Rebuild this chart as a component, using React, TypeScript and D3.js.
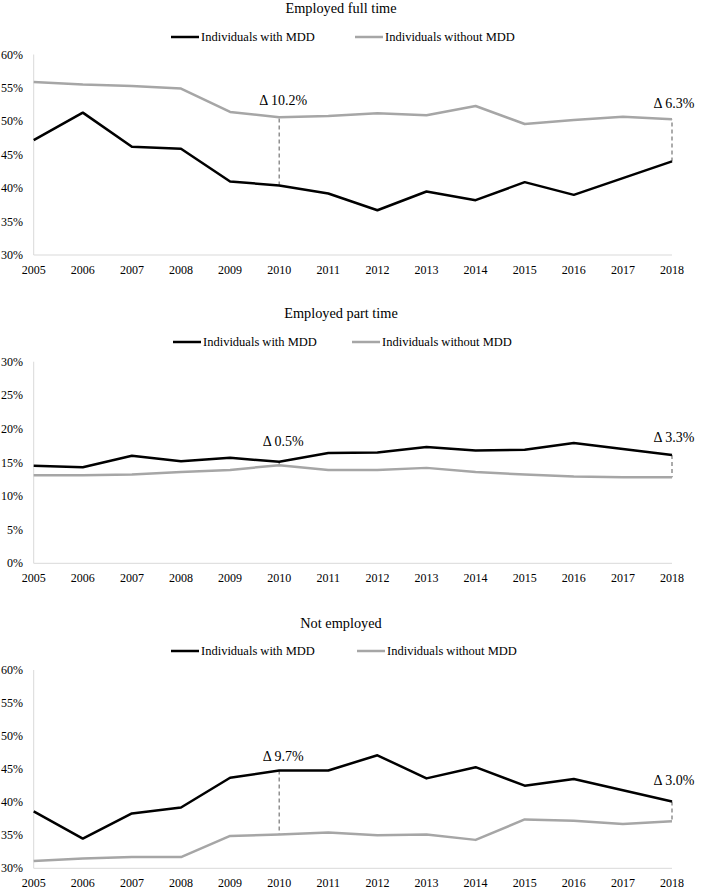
import React from "react";
import * as d3 from "d3";

const years = [2005, 2006, 2007, 2008, 2009, 2010, 2011, 2012, 2013, 2014, 2015, 2016, 2017, 2018];

const fullTimeWith = [47.2, 51.3, 46.2, 45.9, 41.0, 40.4, 39.2, 36.7, 39.5, 38.2, 40.9, 39.0, 41.5, 44.0];
const fullTimeWithout = [55.9, 55.5, 55.3, 54.9, 51.4, 50.6, 50.8, 51.2, 50.9, 52.3, 49.6, 50.2, 50.7, 50.3];

const partTimeWith = [14.5, 14.3, 16.0, 15.2, 15.7, 15.1, 16.4, 16.5, 17.3, 16.8, 16.9, 17.9, 17.0, 16.1];
const partTimeWithout = [13.1, 13.1, 13.2, 13.6, 13.9, 14.6, 13.9, 13.9, 14.2, 13.6, 13.2, 12.9, 12.8, 12.8];

const notEmployedWith = [38.6, 34.5, 38.3, 39.2, 43.7, 44.8, 44.8, 47.1, 43.6, 45.3, 42.5, 43.5, 41.8, 40.1];
const notEmployedWithout = [31.1, 31.5, 31.7, 31.7, 34.9, 35.1, 35.4, 35.0, 35.1, 34.3, 37.4, 37.2, 36.7, 37.1];

const fullTimeTicks = [30, 35, 40, 45, 50, 55, 60];
const partTimeTicks = [0, 5, 10, 15, 20, 25, 30];
const notEmployedTicks = [30, 35, 40, 45, 50, 55, 60];

const titles = ["Employed full time", "Employed part time", "Not employed"];
const legendLabels = ["Individuals with MDD", "Individuals without MDD"];
const fullTimeDeltas = ["Δ 10.2%", "Δ 6.3%"];
const partTimeDeltas = ["Δ 0.5%", "Δ 3.3%"];
const notEmployedDeltas = ["Δ 9.7%", "Δ 3.0%"];
const deltaYears = [2010, 2018];

const FONT = "Liberation Serif, Times New Roman, Tinos, Nimbus Roman, DejaVu Serif, serif";
const BLACK = "#000000";
const GRAY = "#a6a6a6";
const AXIS = "#d9d9d9";

type PanelProps = {
  title: string;
  withVals: number[];
  withoutVals: number[];
  ticks: number[];
  deltas: string[];
  top: number;
  bottom: number;
  titleY: number;
  legendY: number;
  legendX1: number;
  legendX2: number;
  deltaLabelOffsets: number[];
};

function Panel(p: PanelProps) {
  const x = d3.scaleLinear().domain([2005, 2018]).range([33.7, 672]);
  const y = d3
    .scaleLinear()
    .domain([p.ticks[0], p.ticks[p.ticks.length - 1]])
    .range([p.bottom, p.top]);
  const line = d3
    .line<number>()
    .x((_, i) => x(years[i]))
    .y((v) => y(v));

  return (
    <g style={{ fontFamily: FONT }}>
      <text x={341} y={p.titleY} textAnchor="middle" dominantBaseline="central" fontSize={14.3}>
        {p.title}
      </text>
      <line x1={p.legendX1} x2={p.legendX1 + 28} y1={p.legendY} y2={p.legendY} stroke={BLACK} strokeWidth={2.5} />
      <text x={p.legendX1 + 30} y={p.legendY} dominantBaseline="central" fontSize={12.5}>
        {legendLabels[0]}
      </text>
      <line x1={p.legendX2} x2={p.legendX2 + 28} y1={p.legendY} y2={p.legendY} stroke={GRAY} strokeWidth={2.5} />
      <text x={p.legendX2 + 30} y={p.legendY} dominantBaseline="central" fontSize={12.5}>
        {legendLabels[1]}
      </text>
      <line x1={x(2005)} x2={x(2005)} y1={y.range()[1]} y2={y.range()[0]} stroke={AXIS} strokeWidth={1} />
      <line x1={x(2005)} x2={x(2018)} y1={y.range()[0]} y2={y.range()[0]} stroke={AXIS} strokeWidth={1} />
      {p.ticks.map((t) => (
        <text key={t} x={23} y={y(t)} textAnchor="end" dominantBaseline="central" fontSize={12}>
          {t}%
        </text>
      ))}
      {years.map((yr) => (
        <text key={yr} x={x(yr)} y={p.bottom + 14.5} textAnchor="middle" dominantBaseline="central" fontSize={12}>
          {yr}
        </text>
      ))}
      {deltaYears.map((yr) => {
        const i = years.indexOf(yr);
        return (
          <line
            key={yr}
            x1={x(yr)}
            x2={x(yr)}
            y1={y(p.withVals[i])}
            y2={y(p.withoutVals[i])}
            stroke="#7f7f7f"
            strokeWidth={1.3}
            strokeDasharray="4,3"
          />
        );
      })}
      <path d={line(p.withoutVals) || ""} fill="none" stroke={GRAY} strokeWidth={2.5} strokeLinejoin="round" />
      <path d={line(p.withVals) || ""} fill="none" stroke={BLACK} strokeWidth={2.5} strokeLinejoin="round" />
      {deltaYears.map((yr, k) => {
        const i = years.indexOf(yr);
        const upper = Math.min(y(p.withVals[i]), y(p.withoutVals[i]));
        return (
          <text
            key={"d" + yr}
            x={x(yr) + (k === 0 ? 4 : 2)}
            y={upper - p.deltaLabelOffsets[k]}
            textAnchor="middle"
            dominantBaseline="central"
            fontSize={14}
          >
            {p.deltas[k]}
          </text>
        );
      })}
    </g>
  );
}

export default function App() {
  return (
    <svg width={709} height={891} style={{ position: "absolute", left: 0, top: 0, background: "#fff" }}>
      <rect width={709} height={891} fill="#fff" />
      <Panel
        title={titles[0]}
        withVals={fullTimeWith}
        withoutVals={fullTimeWithout}
        ticks={fullTimeTicks}
        deltas={fullTimeDeltas}
        top={54.5}
        bottom={255}
        titleY={8}
        legendY={37}
        legendX1={171}
        legendX2={355}
        deltaLabelOffsets={[17, 16]}
      />
      <Panel
        title={titles[1]}
        withVals={partTimeWith}
        withoutVals={partTimeWithout}
        ticks={partTimeTicks}
        deltas={partTimeDeltas}
        top={361.7}
        bottom={563.3}
        titleY={313}
        legendY={342}
        legendX1={173}
        legendX2={352}
        deltaLabelOffsets={[20, 18]}
      />
      <Panel
        title={titles[2]}
        withVals={notEmployedWith}
        withoutVals={notEmployedWithout}
        ticks={notEmployedTicks}
        deltas={notEmployedDeltas}
        top={670}
        bottom={868.3}
        titleY={622.7}
        legendY={651}
        legendX1={171}
        legendX2={357}
        deltaLabelOffsets={[14, 21]}
      />
    </svg>
  );
}
